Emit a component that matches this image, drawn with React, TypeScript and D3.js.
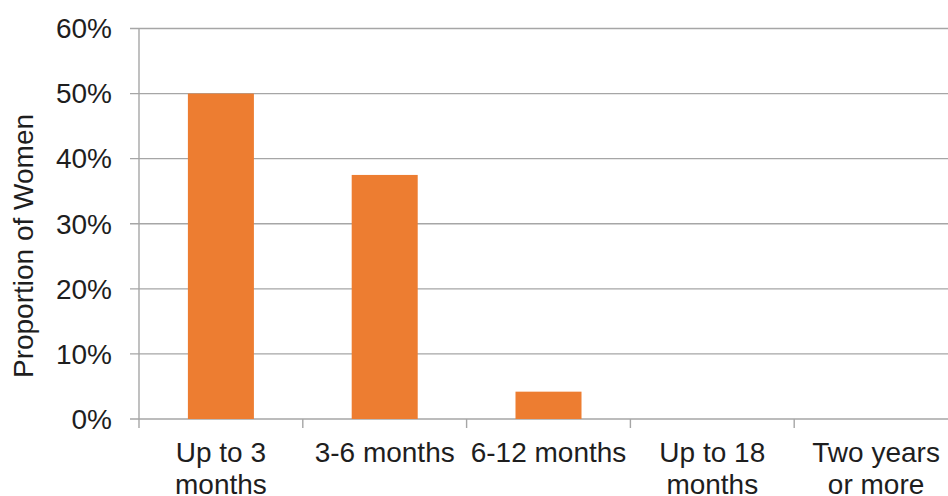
import React from "react";
import * as d3 from "d3";

const categories: string[][] = [
  ["Up to 3", "months"],
  ["3-6 months"],
  ["6-12 months"],
  ["Up to 18", "months"],
  ["Two years", "or more"],
];
const values: number[] = [0.5, 0.375, 0.042, 0, 0];
const yTicks: number[] = [0, 0.1, 0.2, 0.3, 0.4, 0.5, 0.6];
const yTitle = "Proportion of Women";

const W = 948;
const H = 496;
const left = 139;
const bottom = 419;
const top = 28.5;
const step = 163.8;
const right = left + step * categories.length;

const FONT = "'Liberation Sans', Arial, sans-serif";
const FS = 28;
const TEXT = "#1e1e1e";
const GRID = "#a6a6a6";
const BAR = "#ed7d31";

export default function App() {
  const keys = categories.map((_, i) => String(i));
  const x = d3
    .scaleBand<string>()
    .domain(keys)
    .range([left, right])
    .paddingInner(0.597)
    .paddingOuter(0.2985);
  const y = d3.scaleLinear().domain([0, 0.6]).range([bottom, top]);
  const fmt = d3.format(".0%");
  const bounds = d3.range(categories.length + 1).map((i) => left + i * x.step());

  return (
    <div style={{ position: "fixed", left: 0, top: 0 }}>
      <svg width={W} height={H} style={{ display: "block", background: "#fff" }}>
        {/* horizontal gridlines with their tick stubs */}
        {yTicks.map((t) => (
          <line
            key={"g" + t}
            x1={left - 9}
            x2={W}
            y1={y(t)}
            y2={y(t)}
            stroke={GRID}
            strokeWidth={1.4}
          />
        ))}
        {/* value axis */}
        <line x1={left} x2={left} y1={top} y2={bottom} stroke={GRID} strokeWidth={1.4} />
        {/* category dividers */}
        {bounds.map((b, i) => (
          <line
            key={"t" + i}
            x1={b}
            x2={b}
            y1={bottom}
            y2={bottom + 9}
            stroke={GRID}
            strokeWidth={1.4}
          />
        ))}
        {/* bars */}
        {values.map((v, i) => (
          <rect
            key={"b" + i}
            x={x(keys[i])}
            y={y(v)}
            width={x.bandwidth()}
            height={bottom - y(v)}
            fill={BAR}
          />
        ))}
        {/* y tick labels */}
        {yTicks.map((t) => (
          <text
            key={"yl" + t}
            x={112}
            y={y(t)}
            dy="0.35em"
            textAnchor="end"
            fontFamily={FONT}
            fontSize={FS}
            fill={TEXT}
          >
            {fmt(t)}
          </text>
        ))}
        {/* category labels */}
        {categories.map((lines, i) => (
          <text
            key={"xl" + i}
            x={(x(keys[i]) as number) + x.bandwidth() / 2}
            y={462}
            textAnchor="middle"
            fontFamily={FONT}
            fontSize={FS}
            fill={TEXT}
          >
            {lines.map((ln, j) => (
              <tspan key={j} x={(x(keys[i]) as number) + x.bandwidth() / 2} dy={j === 0 ? 0 : 32}>
                {ln}
              </tspan>
            ))}
          </text>
        ))}
        {/* y axis title */}
        <text
          transform="translate(33, 246) rotate(-90)"
          textAnchor="middle"
          fontFamily={FONT}
          fontSize={FS}
          fill={TEXT}
        >
          {yTitle}
        </text>
      </svg>
    </div>
  );
}
